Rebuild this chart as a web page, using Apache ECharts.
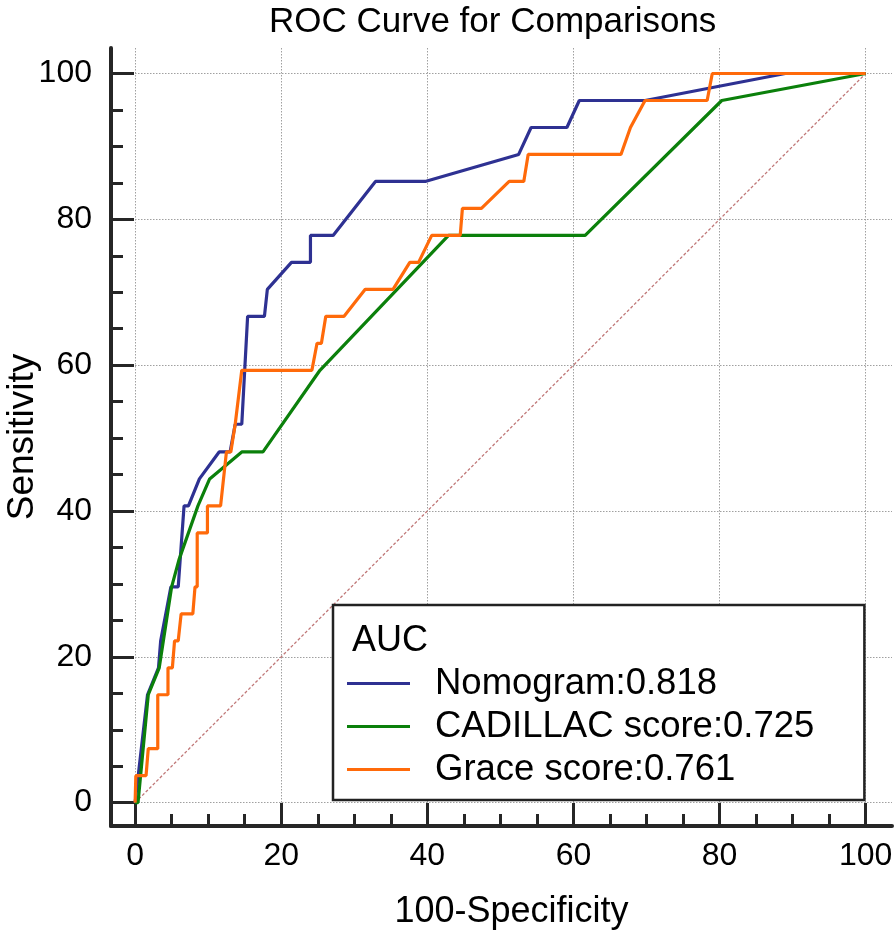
<!DOCTYPE html>
<html>
<head>
<meta charset="utf-8">
<script src="https://cdn.jsdelivr.net/npm/echarts@6/dist/echarts.min.js"></script>
<style>
html,body{margin:0;padding:0;background:#fff;}
#chart{width:896px;height:934px;}
</style>
</head>
<body>
<div id="chart"></div>
<script>
// ---- data (x = 100-Specificity, y = Sensitivity) ----
const seriesNames = ['Nomogram:0.818', 'CADILLAC score:0.725', 'Grace score:0.761'];
const nomogram = [[0,0],[1.7,14.8],[3.2,18.5],[3.5,22.2],[4.9,29.6],[5.9,29.6],[6.7,40.7],[7.3,40.7],[8.8,44.4],[11.5,48.1],[13.0,48.1],[13.7,51.9],[14.6,51.9],[15.4,66.7],[17.7,66.7],[18.1,70.4],[21.4,74.1],[24.0,74.1],[24.0,77.8],[27.1,77.8],[32.9,85.2],[39.7,85.2],[52.5,88.9],[54.2,92.6],[59.1,92.6],[60.8,96.3],[69.8,96.3],[89.0,100],[100,100]];
const cadillac = [[0,0],[0.4,0],[1.8,14.8],[3.3,18.5],[5.0,29.6],[6.0,33.3],[7.3,37.0],[8.6,40.7],[10.2,44.4],[14.6,48.1],[17.5,48.1],[25.3,59.3],[42.9,77.8],[61.6,77.8],[80.3,96.3],[100,100]];
const grace = [[0,0],[0.1,0],[0.1,3.7],[1.5,3.7],[1.8,7.4],[3.1,7.4],[3.1,14.8],[4.5,14.8],[4.5,18.5],[5.1,18.5],[5.4,22.2],[5.9,22.2],[6.3,25.9],[7.9,25.9],[8.2,29.6],[8.5,29.6],[8.5,37.0],[9.9,37.0],[9.9,40.7],[11.7,40.7],[12.5,48.1],[13.1,48.1],[13.7,51.9],[14.6,59.3],[24.2,59.3],[24.9,63.0],[25.5,63.0],[26.1,66.7],[28.6,66.7],[31.5,70.4],[35.3,70.4],[37.6,74.1],[38.8,74.1],[40.6,77.8],[44.5,77.8],[44.8,81.5],[47.4,81.5],[51.2,85.2],[53.2,85.2],[53.8,88.9],[66.5,88.9],[67.8,92.6],[69.8,96.3],[78.3,96.3],[79.0,100],[100,100]];
const diagonal = [[0,0],[100,100]];
const majorTicks = [0,20,40,60,80,100];
const minorTicks = [5,10,15,25,30,35,45,50,55,65,70,75,85,90,95];
const titleText = 'ROC Curve for Comparisons';
const xName = '100-Specificity';
const yName = 'Sensitivity';
const legendTitle = 'AUC';

// ---- styling ----
const FONT = '"Liberation Sans", Arial, sans-serif';
const AX = '#262626';
const colors = ['#2e3192', '#0b800b', '#ff6a0a'];
const gridPos = {left: 111, right: 4, top: 48, bottom: 108, containLabel: false, outerBoundsMode: 'none'};
const xRange = {min: -3.3, max: 103.6};
const yRange = {min: -3.2, max: 103.5};

function majorAxis(isX) {
  return Object.assign({
    type: 'value', gridIndex: 0,
    name: isX ? xName : yName,
    nameLocation: 'middle',
    nameGap: isX ? 68 : 70,
    nameMoveOverlap: false,
    nameTextStyle: {fontFamily: FONT, fontSize: isX ? 36 : 37, color: '#000', padding: isX ? [0, 0, 0, 20] : 0},
    axisLine: {show: true, onZero: false, lineStyle: {color: AX, width: 4}},
    axisTick: {show: true, inside: true, length: 23, customValues: majorTicks, lineStyle: {color: AX, width: 3}},
    axisLabel: {show: true, customValues: majorTicks, margin: isX ? 14 : 19, fontFamily: FONT, fontSize: 32, color: '#000'},
    splitLine: {show: true, lineStyle: {color: '#a0a0a0', width: 1, type: [1.5, 1.5]}},
    minorTick: {show: false}
  }, isX ? xRange : yRange);
}
function minorAxis(isX) {
  return Object.assign({
    type: 'value', gridIndex: 1,
    axisLine: {show: false, onZero: false},
    axisTick: {show: true, inside: true, length: 12, customValues: minorTicks, lineStyle: {color: AX, width: 3}},
    axisLabel: {show: false},
    splitLine: {show: false}
  }, isX ? xRange : yRange);
}

const chart = echarts.init(document.getElementById('chart'), null, {renderer: 'canvas'});
chart.setOption({
  animation: false,
  backgroundColor: '#fff',
  color: colors,
  title: [
    {text: titleText, left: 264, top: 0, textStyle: {fontFamily: FONT, fontSize: 35, fontWeight: 'normal', color: '#000'}},
    {text: legendTitle, left: 347, top: 618, z: 10, textStyle: {fontFamily: FONT, fontSize: 36, fontWeight: 'normal', color: '#000'}}
  ],
  legend: {
    data: seriesNames,
    orient: 'vertical',
    left: 333, top: 605,
    padding: [60, 50, 12, 14],
    itemGap: 6,
    itemWidth: 63, itemHeight: 3,
    icon: 'rect',
    backgroundColor: '#fff',
    borderColor: '#222', borderWidth: 2.5,
    textStyle: {fontFamily: FONT, fontSize: 36.5, color: '#000', padding: [0, 0, 0, 20]},
    selectedMode: false
  },
  grid: [Object.assign({}, gridPos), Object.assign({}, gridPos)],
  xAxis: [majorAxis(true), minorAxis(true)],
  yAxis: [majorAxis(false), minorAxis(false)],
  series: [
    {name: 'diag', type: 'line', data: diagonal, showSymbol: false, silent: true, z: 1,
     lineStyle: {color: '#c07878', width: 1.3, type: [3, 2]}},
    {name: seriesNames[0], type: 'line', data: nomogram, showSymbol: false, z: 2, lineStyle: {width: 3.2, color: colors[0]}, itemStyle: {color: colors[0]}},
    {name: seriesNames[1], type: 'line', data: cadillac, showSymbol: false, z: 3, lineStyle: {width: 3.2, color: colors[1]}, itemStyle: {color: colors[1]}},
    {name: seriesNames[2], type: 'line', data: grace, showSymbol: false, z: 4, lineStyle: {width: 3.2, color: colors[2]}, itemStyle: {color: colors[2]}}
  ]
});
</script>
</body>
</html>
